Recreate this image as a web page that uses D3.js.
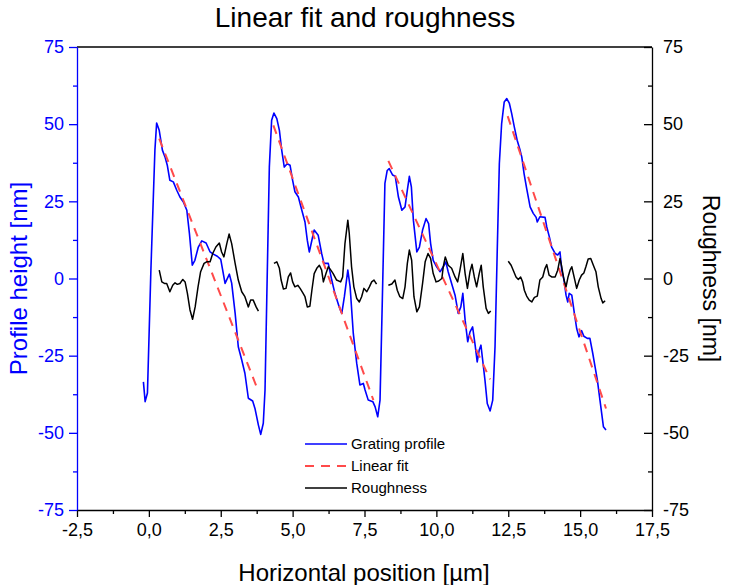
<!DOCTYPE html>
<html>
<head>
<meta charset="utf-8">
<script src="https://cdn.jsdelivr.net/npm/d3@7"></script>
<style>
  body { margin: 0; background: #fff; }
  svg { font-family: "Liberation Sans", Arial, sans-serif; }
</style>
</head>
<body>
<div class="canvas"></div>
<script>
// data (x in µm, heights in nm)
const profileX = [-0.19,-0.13,-0.05,0.07,0.21,0.27,0.36,0.47,0.56,0.64,
  0.73,0.85,0.97,1.08,1.20,1.32,1.41,1.51,1.60,1.72,
  1.84,1.99,2.13,2.24,2.38,2.50,2.65,2.80,2.88,3.00,
  3.11,3.23,3.34,3.46,3.61,3.69,3.81,3.89,3.98,4.04,
  4.10,4.19,4.27,4.35,4.45,4.54,4.62,4.71,4.81,4.91,
  5.00,5.08,5.20,5.32,5.43,5.51,5.58,5.67,5.75,5.89,
  6.01,6.09,6.24,6.36,6.47,6.62,6.71,6.80,6.92,7.00,
  7.11,7.23,7.34,7.46,7.52,7.63,7.79,7.87,7.96,8.04,
  8.12,8.21,8.29,8.36,8.48,8.57,8.68,8.80,8.91,8.99,
  9.06,9.13,9.20,9.32,9.41,9.52,9.64,9.73,9.80,9.89,
  10.01,10.13,10.24,10.33,10.41,10.53,10.65,10.76,10.85,10.92,
  11.00,11.09,11.17,11.26,11.34,11.42,11.49,11.55,11.61,11.69,
  11.77,11.87,11.96,12.04,12.12,12.19,12.27,12.36,12.45,12.54,
  12.62,12.71,12.81,12.91,12.97,13.05,13.14,13.26,13.37,13.47,
  13.51,13.60,13.78,13.84,13.93,14.01,14.13,14.22,14.30,14.36,
  14.44,14.51,14.57,14.62,14.71,14.80,14.88,14.96,15.05,15.13,
  15.25,15.34,15.44,15.52,15.60,15.69,15.75,15.81,15.90];
const profileY = [-33.5,-39.9,-37.1,2.7,41.6,50.4,48.0,41.6,39.4,36.7,
  31.8,31.3,28.6,26.4,24.8,22.1,14.6,4.3,5.9,10.2,
  12.2,11.5,8.6,7.9,7.2,6.2,-1.6,1.4,-1.5,-11.2,
  -22.1,-26.4,-30.7,-38.8,-39.7,-42.1,-47.5,-50.5,-46.9,-36.1,
  -7.0,36.1,51.3,53.6,51.8,48.0,41.6,36.1,37.2,36.7,
  31.8,28.1,26.4,22.1,18.3,12.4,8.6,12.4,15.7,14.0,
  8.1,4.9,4.9,-0.5,-4.8,-9.2,-11.3,-5.9,2.7,-2.7,
  -17.8,-27.5,-34.5,-34.0,-36.1,-39.4,-39.9,-41.6,-44.8,-39.4,
  -7.0,30.8,35.0,35.6,33.5,33.1,26.4,22.1,23.2,28.6,
  33.1,29.7,18.9,8.6,10.2,15.7,19.4,17.8,11.3,5.9,
  3.8,2.2,3.8,5.4,2.2,-1.6,-5.4,-11.3,-9.2,-4.8,
  -13.5,-20.5,-17.3,-15.7,-21.0,-27.0,-23.2,-21.6,-26.4,-32.9,
  -40.5,-42.9,-39.4,-22.1,10.2,37.2,50.2,57.2,58.3,56.7,
  53.4,49.1,44.8,41.6,39.4,34.0,29.2,23.2,21.1,19.8,
  18.3,20.0,19.8,16.7,13.5,10.2,8.1,7.6,8.6,2.7,
  -0.5,-5.4,-7.6,-4.8,-5.4,-11.3,-16.2,-18.9,-16.9,-18.7,
  -19.4,-19.4,-24.3,-28.6,-32.9,-39.4,-43.7,-48.0,-49.1];

// linear fit, one straight piece per period
const fitStartX = [0.36, 4.33, 8.33, 12.48];
const fitEndX = [3.79, 7.81, 11.87, 15.90];
const fitStartY = [45.3, 49.6, 38.1, 52.6];
const fitEndY = [-36.1, -39.4, -32.7, -42.1];

// roughness (right axis), one piece per period
const roughnessX = [
  [0.36,0.45,0.54,0.62,0.73,0.83,0.91,0.99,1.08,1.18,1.26,1.34,1.43,1.52,1.61,1.71,1.80,1.92,2.01,2.13,2.22,2.33,2.45,2.53,2.61,2.71,2.79,2.88,3.00,3.11,3.23,3.34,3.46,3.54,3.63,3.73,3.81],
  [4.35,4.45,4.54,4.60,4.68,4.77,4.85,4.93,5.00,5.08,5.18,5.26,5.35,5.43,5.51,5.60,5.67,5.75,5.84,5.93,6.01,6.07,6.16,6.24,6.33,6.41,6.53,6.67,6.74,6.82,6.92,6.97,7.05,7.13,7.23,7.32,7.40,7.48,7.58,7.67,7.75,7.83,7.92],
  [8.33,8.45,8.56,8.64,8.73,8.83,8.91,8.99,9.06,9.14,9.22,9.32,9.41,9.52,9.61,9.71,9.80,9.89,9.99,10.08,10.19,10.24,10.31,10.41,10.53,10.65,10.74,10.82,10.92,11.00,11.08,11.17,11.24,11.32,11.40,11.49,11.56,11.63,11.73,11.81,11.89],
  [12.50,12.60,12.68,12.77,12.85,12.93,13.00,13.06,13.14,13.23,13.32,13.41,13.51,13.60,13.70,13.78,13.84,13.92,14.01,14.13,14.22,14.30,14.36,14.44,14.51,14.58,14.65,14.71,14.79,14.88,14.97,15.05,15.13,15.20,15.28,15.37,15.46,15.55,15.63,15.73,15.79,15.87]
];
const roughnessY = [
  [2.7,-1.1,-1.6,-1.6,-4.3,-2.2,-1.4,-1.9,-1.6,-0.3,-1.1,-4.8,-10.2,-13.2,-9.2,-2.7,2.2,4.9,5.4,5.4,8.1,10.2,11.5,8.6,7.0,11.3,14.4,11.3,4.9,-0.5,-4.3,-5.9,-9.2,-7.0,-7.0,-9.2,-10.6],
  [4.9,5.4,3.3,-0.5,-3.4,-3.2,0.5,1.8,-1.1,-2.7,-2.2,-3.2,-4.6,-5.9,-9.2,-9.0,-3.8,1.6,3.3,4.3,2.7,-1.1,1.6,3.8,2.7,1.6,-0.5,-1.1,0.5,11.3,18.9,14.6,3.8,-2.7,-6.5,-7.6,-5.9,-3.2,-4.3,-2.7,-1.1,-0.5,-1.8],
  [-2.2,-1.8,-0.5,-3.8,-5.9,-6.5,-2.7,4.9,9.2,5.9,-5.9,-10.8,-9.2,-1.6,5.4,8.1,6.5,1.6,-1.1,-0.8,0.0,3.8,7.0,4.3,3.3,0.5,-1.1,2.7,8.1,1.6,-3.2,2.2,4.6,0.5,-2.7,1.6,4.3,-2.7,-9.7,-11.3,-10.5],
  [5.6,4.3,2.5,0.5,-0.3,0.5,-1.1,-3.8,-5.7,-7.0,-7.6,-6.1,-5.7,-0.5,0.5,3.3,4.5,1.1,0.5,0.5,2.7,6.5,3.8,-0.5,-2.7,0.5,2.7,3.8,0.5,-3.2,-0.5,1.1,1.8,3.8,6.3,6.5,4.3,2.2,-2.7,-6.5,-7.9,-7.2]
];

const xTicks = [-2.5, 0, 2.5, 5, 7.5, 10, 12.5, 15, 17.5];
const yTicks = [-75, -50, -25, 0, 25, 50, 75];
const legendLabels = ['Grating profile', 'Linear fit', 'Roughness'];

// colours
const blue = '#0000ff';
const red = '#ff4a4a';

// svg
const svg = d3.select('.canvas')
    .append('svg')
        .attr('width', 731)
        .attr('height', 585);

// plot box
const plotLeft = 77, plotRight = 652, plotTop = 47, plotBottom = 510;

// scales
const x = d3.scaleLinear().domain([-2.5, 17.5]).range([plotLeft, plotRight]);
const y = d3.scaleLinear().domain([-75, 75]).range([plotBottom, plotTop]);
const yR = d3.scaleLinear().domain([-75, 75]).range([plotBottom, plotTop]);

// minor ticks sit halfway between major ones
const xMinor = xTicks.slice(1).map(d => d - 1.25);
const yMinor = yTicks.slice(1).map(d => d - 12.5);
const comma = d => d3.format('.1f')(d).replace('.', ',').replace('−', '-');

// top frame line
svg.append('line')
    .attr('x1', plotLeft).attr('x2', plotRight)
    .attr('y1', plotTop).attr('y2', plotTop)
    .attr('stroke', '#000')
    .attr('stroke-width', 1.3);

// bottom axis
const xAxisGroup = svg.append('g').attr('transform', `translate(0, ${plotBottom})`);
xAxisGroup.call(d3.axisBottom(x).tickValues(xTicks).tickSize(7).tickSizeOuter(0).tickPadding(6).tickFormat(comma));
xAxisGroup.append('g').call(d3.axisBottom(x).tickValues(xMinor).tickSize(4).tickFormat(''))
    .select('.domain').remove();

// right axis, ticks point inwards
const yRAxisGroup = svg.append('g').attr('transform', `translate(${plotRight}, 0)`);
yRAxisGroup.call(d3.axisRight(yR).tickValues(yTicks).tickSize(-8).tickSizeOuter(0).tickPadding(11)
    .tickFormat(d => String(d)));
yRAxisGroup.append('g').call(d3.axisRight(yR).tickValues(yMinor).tickSize(-4).tickFormat(''))
    .select('.domain').remove();

// left axis (blue)
const yAxisGroup = svg.append('g').attr('transform', `translate(${plotLeft}, 0)`);
yAxisGroup.call(d3.axisLeft(y).tickValues(yTicks).tickSize(8).tickSizeOuter(0).tickPadding(5)
    .tickFormat(d => String(d)));
yAxisGroup.append('g').call(d3.axisLeft(y).tickValues(yMinor).tickSize(4).tickFormat(''))
    .select('.domain').remove();

[xAxisGroup, yRAxisGroup, yAxisGroup].forEach(g => {
    g.selectAll('path, line').attr('stroke-width', 1.3);
    g.selectAll('text').attr('font-size', 18).attr('font-family', '"Liberation Sans", Arial, sans-serif');
});
xAxisGroup.selectAll('path, line').attr('stroke', '#000');
xAxisGroup.selectAll('text').attr('fill', '#000');
yRAxisGroup.selectAll('path, line').attr('stroke', '#000');
yRAxisGroup.selectAll('text').attr('fill', '#000');
yAxisGroup.selectAll('path, line').attr('stroke', blue);
yAxisGroup.selectAll('text').attr('fill', blue);

// lines
const line = d3.line().x(d => x(d[0])).y(d => y(d[1]));
const lineR = d3.line().x(d => x(d[0])).y(d => yR(d[1]));

svg.append('path')
    .datum(profileX.map((d, i) => [d, profileY[i]]))
    .attr('d', line)
    .attr('fill', 'none')
    .attr('stroke', blue)
    .attr('stroke-width', 1.6)
    .attr('stroke-linejoin', 'round');

svg.selectAll('.fit')
    .data(fitStartX.map((d, i) => [[d, fitStartY[i]], [fitEndX[i], fitEndY[i]]]))
    .enter()
    .append('path')
        .attr('class', 'fit')
        .attr('d', line)
        .attr('fill', 'none')
        .attr('stroke', red)
        .attr('stroke-width', 2)
        .attr('stroke-dasharray', '9,7');

svg.selectAll('.rough')
    .data(roughnessX.map((xs, k) => xs.map((d, i) => [d, roughnessY[k][i]])))
    .enter()
    .append('path')
        .attr('class', 'rough')
        .attr('d', lineR)
        .attr('fill', 'none')
        .attr('stroke', '#000')
        .attr('stroke-width', 1.5)
        .attr('stroke-linejoin', 'round');

// titles
svg.append('text')
    .attr('x', 365).attr('y', 27)
    .attr('text-anchor', 'middle')
    .attr('font-size', 28)
    .text('Linear fit and roughness');

svg.append('text')
    .attr('x', 364).attr('y', 581)
    .attr('text-anchor', 'middle')
    .attr('font-size', 24)
    .text('Horizontal position [µm]');

svg.append('text')
    .attr('transform', `translate(27, ${(plotTop + plotBottom) / 2}) rotate(-90)`)
    .attr('text-anchor', 'middle')
    .attr('font-size', 24)
    .attr('fill', blue)
    .text('Profile height [nm]');

svg.append('text')
    .attr('transform', `translate(703, ${(plotTop + plotBottom) / 2}) rotate(90)`)
    .attr('text-anchor', 'middle')
    .attr('font-size', 23)
    .text('Roughness [nm]');

// legend
const legend = svg.append('g').attr('transform', 'translate(305, 444)');
const legendStyles = [
    {stroke: blue, dash: null, width: 1.6},
    {stroke: red, dash: '9,7', width: 2},
    {stroke: '#000', dash: null, width: 1.5}
];
legendLabels.forEach((label, i) => {
    const row = legend.append('g').attr('transform', `translate(0, ${i * 22})`);
    row.append('line')
        .attr('x1', 0).attr('x2', 42)
        .attr('stroke', legendStyles[i].stroke)
        .attr('stroke-width', legendStyles[i].width)
        .attr('stroke-dasharray', legendStyles[i].dash);
    row.append('text')
        .attr('x', 46).attr('y', 5)
        .attr('font-size', 15)
        .text(label);
});
</script>
</body>
</html>
